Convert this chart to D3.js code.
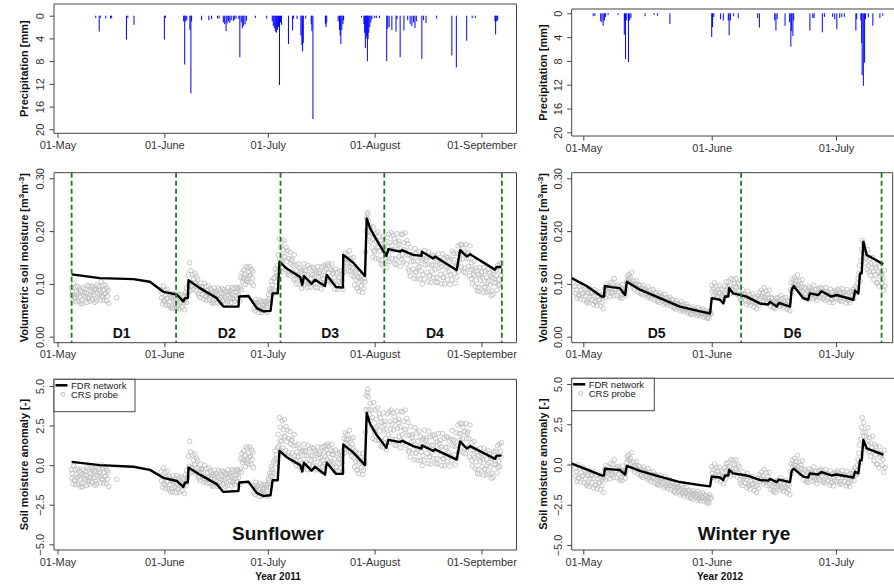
<!DOCTYPE html>
<html>
<head>
<meta charset="utf-8">
<script src="https://cdn.jsdelivr.net/npm/d3@7"></script>
<style>
body { margin: 0; background: #fff; }
text { font-family: "Liberation Sans", Arial, sans-serif; }
</style>
</head>
<body>
<script>
// days are counted from 01-May of each year

// hourly rain, [day, mm]
const precip2011 = [
  [11.1,0.4],[12.1,2.8],[12.4,0.4],[14.0,0.5],[15.4,0.5],[15.7,0.4],[20.0,4.2],[20.4,0.4],[22.2,1.6],[31.0,4.2],[31.3,0.4],
  [36.6,1.0],[36.9,8.6],[37.2,1.0],[37.5,0.8],[38.4,2.5],[38.7,13.7],[38.9,1.0],
  [41.8,0.8],[43.9,0.8],[44.7,0.6],[46.4,0.5],[46.9,0.5],[48.1,1.2],[48.5,1.5],[48.9,2.7],[49.2,1.4],[49.6,1.0],[50.0,1.3],[50.4,0.8],[51.0,0.9],[51.4,0.7],[51.8,0.5],
  [52.6,0.6],[52.9,7.3],[53.3,1.2],[53.6,2.2],[54.0,1.8],[54.4,1.5],[54.8,0.9],
  [57.4,0.4],[60.7,0.5],
  [62.3,1.0],[62.6,1.8],[62.9,2.2],[63.2,2.8],[63.5,3.0],[63.8,2.5],[64.1,2.0],[64.4,12.2],[64.7,1.2],
  [65.0,1.6],[67.0,5.0],[68.2,2.6],[68.5,0.5],[69.5,0.6],[70.6,3.5],[70.9,5.2],[71.1,6.3],[71.3,4.8],[72.0,0.5],
  [73.6,1.5],[73.8,2.7],[74.1,18.2],
  [77.7,1.5],[77.9,2.0],[78.1,1.2],
  [81.4,1.0],[81.8,2.5],[82.0,3.5],[82.2,5.0],[82.5,2.5],[82.8,1.5],[83.0,0.8],
  [88.2,0.3],[88.9,1.5],[89.1,3.0],[89.3,5.7],[89.5,4.0],[89.7,3.5],[89.9,8.0],[90.1,4.1],[90.3,3.0],[90.6,2.0],[90.9,1.2],[91.2,0.6],
  [92.0,0.4],[92.5,0.4],[93.4,0.4],
  [95.5,8.0],[95.8,2.3],[96.2,2.0],[97.0,2.5],[98.2,2.8],[98.5,0.6],[99.4,7.3],[100.5,2.6],[101.6,0.8],
  [102.3,1.5],[102.8,1.8],[103.3,1.2],[103.7,2.2],[104.1,1.0],
  [105.7,7.6],[106.2,0.8],[106.9,1.3],[110.0,0.5],
  [114.4,7.0],[115.7,9.1],[118.7,4.4],[120.3,0.4],[121.2,0.4],[126.9,1.0],[127.1,3.3],[127.4,1.0],[127.7,0.8]
];
const precip2012 = [
  [2.4,0.5],[2.8,0.4],[4.2,1.3],[4.5,1.5],[4.8,2.1],[5.1,1.2],[5.4,0.6],[6.0,0.3],[8.4,0.3],
  [9.9,3.6],[10.0,1.2],[10.2,7.7],[10.5,1.2],[10.9,8.2],[11.2,1.2],[11.5,0.8],[14.9,0.5],[17.1,0.3],[17.9,0.4],[20.9,1.8],
  [31.0,4.0],[31.2,2.3],[31.5,0.6],[33.1,1.0],[33.8,1.2],[35.0,1.2],[35.2,3.7],[35.5,1.2],[36.3,0.5],[37.4,0.8],
  [42.1,0.8],[42.5,2.4],
  [46.2,1.2],[46.5,2.9],[46.8,1.0],[48.7,2.1],[49.8,1.5],[50.1,5.6],[50.3,3.0],[50.6,3.8],[50.8,1.2],
  [54.7,2.9],[55.4,0.8],[55.7,0.8],[57.7,3.2],[58.2,0.6],[60.2,0.6],[60.7,1.0],[61.2,2.7],[61.9,0.8],[62.4,0.6],[63.0,0.6],
  [65.8,2.9],[66.0,1.0],[67.0,1.2],[67.2,5.0],[67.3,10.4],[67.6,12.2],[67.9,8.3],[68.1,1.0],[68.8,0.7],[69.9,2.1],[71.6,0.8],[72.3,0.4]
];

// FDR network, [day, value]
const fdrSm2011 = [
  [4.1,.118],[12.3,.111],[22,.109],[26.8,.104],[30.7,.085],[34.6,.080],[36.5,.067],[37.0,.073],[37.8,.073],[38.0,.107],
  [41.3,.092],[46.2,.073],[48.1,.057],[52.5,.057],[52.7,.076],[55.4,.077],[57.8,.054],[59.7,.048],[61.8,.049],[62.4,.082],
  [63.9,.082],[64.4,.142],[66.5,.129],[70.4,.113],[71.0,.098],[71.5,.115],[73.7,.100],[74.7,.108],[77.6,.096],[78.1,.117],
  [80.8,.094],[82.8,.093],[82.9,.155],[85.8,.140],[89.2,.115],[89.7,.224],[90.7,.205],[92.6,.183],[95.4,.153],[96.0,.166],
  [99.4,.161],[99.9,.164],[103.2,.155],[105.6,.153],[105.7,.161],[109.0,.148],[109.5,.152],[115.8,.126],[116.8,.164],
  [118.7,.152],[119.7,.156],[126.9,.127],[127.4,.132],[128.8,.132]
];
const fdrAn2011 = [
  [4.1,0.21],[12.3,0.0],[22,-0.1],[26.8,-0.3],[30.7,-0.8],[34.6,-1.0],[36.5,-1.37],[37.0,-1.1],[37.8,-1.1],[38.0,-0.15],
  [41.3,-0.6],[46.2,-1.2],[48.1,-1.69],[52.5,-1.63],[52.7,-1.1],[55.4,-1.05],[57.8,-1.75],[59.7,-1.95],[61.8,-1.9],[62.4,-0.95],
  [63.9,-0.95],[64.4,0.9],[66.5,0.5],[70.4,0.0],[71.0,-0.4],[71.5,0.15],[73.7,-0.35],[74.7,-0.1],[77.6,-0.6],[78.1,0.15],
  [80.8,-0.55],[82.8,-0.55],[82.9,1.3],[85.8,0.8],[89.2,0.0],[89.7,3.3],[90.7,2.6],[92.6,1.9],[95.4,1.1],[96.0,1.6],
  [99.4,1.45],[99.9,1.55],[103.2,1.2],[105.6,1.05],[105.7,1.25],[109.0,0.9],[109.5,1.0],[115.8,0.35],[116.8,1.5],
  [118.7,1.05],[119.7,1.2],[126.9,0.4],[127.4,0.6],[128.8,0.6]
];
const fdrSm2012 = [
  [-2.8,.111],[0.8,.096],[4.4,.076],[5.0,.076],[5.2,.096],[6.8,.094],[8.8,.092],[10.1,.079],[10.5,.104],[13.7,.089],
  [18.5,.073],[23.3,.057],[28.2,.048],[30.6,.044],[31.0,.073],[33.0,.070],[33.8,.063],[34.2,.076],[35.0,.076],[35.2,.092],
  [36.2,.082],[39.4,.076],[42.6,.063],[44.6,.061],[45.1,.066],[46.7,.057],[47.2,.064],[49.9,.057],[50.3,.089],[50.8,.096],
  [53.1,.073],[54.3,.070],[54.7,.082],[56.7,.079],[57.5,.086],[59.9,.076],[61.1,.079],[65.2,.070],[65.6,.087],[66.4,.082],
  [66.8,.120],[67.2,.120],[67.6,.180],[68.4,.155],[70.0,.148],[72.4,.137]
];
const fdrAn2012 = [
  [-2.8,0.06],[0.8,-0.3],[4.4,-0.68],[5.0,-0.68],[5.2,-0.26],[6.8,-0.3],[8.8,-0.34],[10.1,-0.62],[10.5,-0.09],[13.7,-0.4],
  [18.5,-0.75],[23.3,-1.09],[28.2,-1.28],[30.6,-1.36],[31.0,-0.75],[33.0,-0.81],[33.8,-0.96],[34.2,-0.68],[35.0,-0.68],[35.2,-0.34],
  [36.2,-0.55],[39.4,-0.68],[42.6,-0.96],[44.6,-1.0],[45.1,-0.9],[46.7,-1.09],[47.2,-0.94],[49.9,-1.09],[50.3,-0.4],[50.8,-0.26],
  [53.1,-0.75],[54.3,-0.81],[54.7,-0.55],[56.7,-0.62],[57.5,-0.47],[59.9,-0.68],[61.1,-0.62],[65.2,-0.81],[65.6,-0.45],[66.4,-0.55],
  [66.8,0.26],[67.2,0.26],[67.6,1.53],[68.4,1.0],[70.0,0.85],[72.4,0.62]
];

// CRS probe, [day, readings spread over that day]
const crsSm2011 = [
  [4,.093,.078,.086,.068,.100,.075],[5,.073,.094,.066,.085,.078,.095],[6,.081,.067,.091,.076,.087,.062],
  [7,.068,.085,.063,.093,.078,.083],[8,.090,.075,.083,.065,.097,.072],[9,.074,.095,.067,.086,.079,.096],
  [10,.084,.070,.094,.079,.090,.065],[11,.073,.090,.068,.098,.083,.088],[12,.095,.080,.088,.070,.104,.077],
  [13,.076,.097,.069,.088,.081,.098],[14,.082,.068,.092,.077,.088,.063],[17.2,.074],
  [30,.089,.073,.082,.062,.096,.069],[31,.067,.088,.060,.079,.072,.090],[32,.072,.059,.081,.067,.078,.054],
  [33,.058,.074,.054,.082,.068,.073],[34,.077,.062,.070,.053,.083,.059],[35,.060,.079,.053,.071,.064,.080],
  [36,.069,.056,.078,.064,.075,.051],[37,.069,.084,.065,.092,.078,.083],[38,.117,.099,.140,.087,.125,.095],
  [39,.097,.118,.090,.109,.102,.120],[40,.102,.087,.113,.096,.109,.082],[41,.078,.094,.074,.102,.088,.093],
  [42,.095,.080,.088,.071,.101,.077],[43,.076,.095,.069,.087,.080,.096],[44,.082,.069,.091,.077,.088,.064],
  [45,.068,.084,.064,.092,.078,.083],[46,.086,.073,.080,.064,.092,.070],[47,.071,.089,.065,.082,.076,.091],
  [48,.080,.068,.089,.075,.086,.063],[49,.070,.085,.066,.093,.079,.084],[50,.087,.074,.081,.065,.093,.071],
  [51,.073,.091,.067,.084,.078,.093],[52,.084,.071,.093,.079,.090,.067],[53,.094,.112,.089,.121,.105,.110],
  [54,.126,.110,.119,.099,.133,.106],[55,.110,.131,.103,.122,.115,.133],[56,.117,.102,.128,.111,.124,.097],
  [57,.053,.065,.049,.071,.060,.064],[58,.064,.053,.059,.046,.069,.051],[59,.051,.066,.046,.060,.055,.067],
  [60,.059,.050,.066,.056,.064,.046],[61,.068,.080,.072,.090,.062,.085],[62,.105,.090,.098,.082,.110,.088],
  [63,.112,.128,.104,.122,.116,.134],[64,.155,.130,.185,.145,.170,.122],[65,.143,.179,.131,.164,.152,.182],
  [66,.151,.127,.169,.142,.163,.118],[67,.123,.148,.116,.160,.138,.146],[68,.145,.123,.135,.108,.155,.118],
  [69,.109,.136,.100,.125,.116,.138],[70,.116,.099,.129,.110,.125,.092],[71,.105,.127,.098,.138,.118,.125],
  [72,.126,.106,.117,.093,.135,.102],[73,.103,.130,.094,.119,.110,.132],[74,.117,.100,.130,.111,.126,.093],
  [75,.100,.122,.093,.133,.113,.120],[76,.123,.103,.114,.090,.132,.099],[77,.110,.134,.102,.124,.116,.136],
  [78,.127,.111,.139,.121,.135,.105],[79,.108,.128,.102,.138,.120,.126],[80,.120,.102,.112,.090,.128,.098],
  [81,.098,.122,.090,.112,.104,.124],[82,.112,.096,.124,.106,.120,.090],[83,.128,.148,.122,.158,.140,.146],
  [84,.155,.137,.147,.125,.163,.133],[85,.124,.148,.116,.138,.130,.150],[86,.114,.098,.126,.108,.122,.092],
  [87,.092,.112,.086,.122,.104,.110],[88,.114,.096,.106,.084,.122,.092],[89,.110,.104,.160,.200,.225,.232],
  [90,.235,.220,.200,.190,.210,.180],[91,.196,.169,.184,.151,.208,.163],[92,.160,.196,.148,.181,.169,.199],
  [93,.171,.147,.189,.162,.183,.138],[94,.145,.175,.136,.190,.163,.172],[95,.176,.149,.164,.131,.188,.143],
  [96,.155,.194,.142,.178,.165,.197],[97,.173,.148,.192,.164,.186,.138],[98,.147,.179,.137,.195,.166,.176],
  [99,.181,.152,.168,.133,.194,.146],[100,.155,.194,.142,.178,.165,.197],[101,.163,.138,.182,.154,.176,.128],
  [102,.124,.154,.115,.169,.142,.151],[103,.155,.128,.143,.110,.167,.122],[104,.122,.158,.110,.143,.131,.161],
  [105,.133,.109,.151,.124,.145,.100],[106,.118,.148,.109,.163,.136,.145],[107,.149,.122,.137,.104,.161,.116],
  [108,.115,.151,.103,.136,.124,.154],[109,.136,.112,.154,.127,.148,.103],[110,.112,.142,.103,.157,.130,.139],
  [111,.145,.118,.133,.100,.157,.112],[112,.112,.148,.100,.133,.121,.151],[113,.132,.108,.150,.123,.144,.099],
  [114,.117,.147,.108,.162,.135,.158],[115,.146,.119,.134,.101,.158,.113],[116,.136,.172,.124,.157,.145,.175],
  [117,.156,.132,.174,.147,.168,.123],[118,.130,.160,.121,.175,.148,.157],[119,.160,.133,.148,.115,.172,.127],
  [120,.110,.140,.100,.128,.118,.143],[121,.115,.095,.130,.107,.125,.087],[122,.093,.118,.086,.131,.108,.116],
  [123,.121,.099,.111,.084,.131,.094],[124,.094,.124,.084,.112,.102,.127],[125,.106,.086,.121,.098,.116,.078],
  [126,.087,.112,.080,.125,.102,.110],[127,.125,.103,.115,.088,.135,.098],[128,.108,.138,.098,.126,.116,.140]
];
const crsAn2011 = [
  [4,-0.29,-0.83,-0.53,-1.19,-0.05,-0.95],[5,-0.99,-0.27,-1.23,-0.57,-0.81,-0.21],[6,-0.72,-1.2,-0.36,-0.9,-0.48,-1.38],
  [7,-1.18,-0.58,-1.36,-0.28,-0.82,-0.64],[8,-0.39,-0.93,-0.63,-1.29,-0.15,-1.05],[9,-0.96,-0.24,-1.2,-0.54,-0.78,-0.18],
  [10,-0.62,-1.1,-0.26,-0.8,-0.38,-1.28],[11,-1.01,-0.41,-1.19,-0.11,-0.65,-0.47],[12,-0.22,-0.76,-0.46,-1.12,0.02,-0.88],
  [13,-0.89,-0.17,-1.13,-0.47,-0.71,-0.11],[14,-0.69,-1.17,-0.33,-0.87,-0.45,-1.35],[17.2,-0.9],
  [30,-0.43,-1.0,-0.69,-1.4,-0.17,-1.15],[31,-1.23,-0.45,-1.49,-0.78,-1.04,-0.39],[32,-1.05,-1.51,-0.71,-1.22,-0.83,-1.68],
  [33,-1.52,-0.95,-1.69,-0.67,-1.18,-1.01],[34,-0.88,-1.39,-1.11,-1.73,-0.65,-1.5],[35,-1.48,-0.79,-1.71,-1.08,-1.31,-0.74],
  [36,-1.16,-1.62,-0.82,-1.33,-0.94,-1.79],[37,-1.14,-0.6,-1.31,-0.33,-0.82,-0.66],[38,0.56,-0.07,1.5,-0.49,0.84,-0.21],
  [39,-0.15,0.63,-0.41,0.31,0.05,0.7],[40,0.03,-0.5,0.42,-0.17,0.29,-0.69],[41,-0.81,-0.24,-0.98,0.04,-0.47,-0.3],
  [42,-0.23,-0.74,-0.46,-1.08,0.0,-0.86],[43,-0.91,-0.22,-1.14,-0.51,-0.74,-0.17],[44,-0.69,-1.15,-0.35,-0.86,-0.47,-1.32],
  [45,-1.16,-0.59,-1.33,-0.31,-0.82,-0.65],[46,-0.54,-1.02,-0.75,-1.35,-0.32,-1.13],[47,-1.08,-0.43,-1.29,-0.7,-0.91,-0.37],
  [48,-0.77,-1.2,-0.44,-0.93,-0.55,-1.36],[49,-1.11,-0.57,-1.28,-0.3,-0.79,-0.63],[50,-0.5,-0.98,-0.71,-1.31,-0.28,-1.09],
  [51,-1.01,-0.36,-1.22,-0.63,-0.84,-0.3],[52,-0.63,-1.06,-0.3,-0.79,-0.41,-1.22],[53,-0.25,0.4,-0.45,0.73,0.14,0.34],
  [54,0.89,0.31,0.63,-0.09,1.15,0.18],[55,0.31,1.09,0.05,0.77,0.51,1.16],[56,0.57,0.05,0.96,0.37,0.83,-0.15],
  [57,-1.73,-1.3,-1.86,-1.08,-1.47,-1.34],[58,-1.32,-1.71,-1.49,-1.97,-1.15,-1.8],[59,-1.78,-1.27,-1.95,-1.48,-1.65,-1.22],
  [60,-1.5,-1.84,-1.24,-1.63,-1.33,-1.97],[61,-1.2,-0.85,-1.0,-0.5,-1.4,-0.7],[62,-0.1,-0.45,-0.25,-0.7,0.2,-0.5],
  [63,0.35,0.9,0.1,0.65,0.45,1.1],[64,1.95,1.2,3.0,1.55,2.4,0.9],[65,1.5,2.79,1.07,2.25,1.82,2.89],
  [66,1.79,0.93,2.43,1.47,2.22,0.61],[67,0.78,1.68,0.51,2.13,1.32,1.59],[68,1.58,0.77,1.22,0.23,1.94,0.59],
  [69,0.29,1.25,-0.03,0.85,0.53,1.33],[70,0.55,-0.09,1.03,0.31,0.87,-0.33],[71,0.13,0.93,-0.11,1.33,0.61,0.85],
  [72,0.91,0.19,0.59,-0.29,1.23,0.03],[73,0.07,1.03,-0.25,0.63,0.31,1.11],[74,0.58,-0.06,1.06,0.34,0.9,-0.3],
  [75,-0.05,0.75,-0.29,1.15,0.43,0.67],[76,0.8,0.08,0.48,-0.4,1.12,-0.08],[77,0.33,1.17,0.05,0.82,0.54,1.24],
  [78,0.93,0.37,1.35,0.72,1.21,0.16],[79,0.26,0.96,0.05,1.31,0.68,0.89],[80,0.67,0.04,0.39,-0.38,0.95,-0.1],
  [81,-0.1,0.74,-0.38,0.39,0.11,0.81],[82,0.39,-0.17,0.81,0.18,0.67,-0.38],[83,0.98,1.68,0.77,2.03,1.4,1.61],
  [84,1.92,1.29,1.64,0.87,2.2,1.15],[85,0.83,1.67,0.55,1.32,1.04,1.74],[86,0.46,-0.1,0.88,0.25,0.74,-0.31],
  [87,-0.31,0.39,-0.52,0.74,0.11,0.32],[88,0.46,-0.17,0.18,-0.59,0.74,-0.31],[89,0.3,0.14,2.1,3.5,4.4,4.6],
  [90,4.8,4.3,3.5,3.2,3.9,2.8],[91,3.48,2.4,3.0,1.68,3.96,2.16],[92,2.06,3.5,1.58,2.9,2.42,3.62],
  [93,2.52,1.56,3.24,2.16,3.0,1.2],[94,1.5,2.7,1.14,3.3,2.22,2.58],[95,2.76,1.68,2.28,0.96,3.24,1.44],
  [96,1.92,3.36,1.44,2.76,2.28,3.48],[97,2.59,1.63,3.31,2.23,3.07,1.27],[98,1.61,2.81,1.25,3.41,2.33,2.69],
  [99,2.9,1.82,2.42,1.1,3.38,1.58],[100,1.92,3.36,1.44,2.76,2.28,3.48],[101,2.23,1.27,2.95,1.87,2.71,0.91],
  [102,0.83,1.9,0.51,2.43,1.47,1.79],[103,1.93,0.97,1.5,0.33,2.36,0.76],[104,0.75,2.04,0.32,1.5,1.07,2.14],
  [105,1.15,0.29,1.79,0.83,1.58,-0.03],[106,0.61,1.68,0.29,2.21,1.25,1.57],[107,1.71,0.75,1.28,0.11,2.14,0.54],
  [108,0.5,1.79,0.07,1.25,0.82,1.89],[109,1.26,0.4,1.9,0.94,1.69,0.08],[110,0.4,1.47,0.08,2.0,1.04,1.36],
  [111,1.57,0.61,1.14,-0.03,2.0,0.4],[112,0.39,1.68,-0.04,1.14,0.71,1.78],[113,1.11,0.25,1.75,0.79,1.54,-0.07],
  [114,0.58,1.65,0.26,2.18,1.22,1.54],[115,1.61,0.65,1.18,0.01,2.04,0.44],[116,1.25,2.54,0.82,2.0,1.57,2.64],
  [117,1.97,1.11,2.61,1.65,2.4,0.79],[118,1.04,2.11,0.72,2.64,1.68,2.0],[119,2.11,1.15,1.68,0.51,2.54,0.94],
  [120,0.32,1.4,-0.04,0.95,0.59,1.49],[121,0.48,-0.24,1.02,0.21,0.84,-0.51],[122,-0.29,0.61,-0.56,1.06,0.25,0.52],
  [123,0.72,-0.09,0.36,-0.63,1.08,-0.27],[124,-0.25,0.83,-0.61,0.38,0.02,0.92],[125,0.16,-0.56,0.7,-0.11,0.52,-0.83],
  [126,-0.5,0.4,-0.77,0.85,0.04,0.31],[127,0.86,0.05,0.5,-0.49,1.22,-0.13],[128,0.25,1.33,-0.11,0.88,0.52,1.42]
];
const crsSm2012 = [
  [-2,.095,.082,.089,.073,.101,.079],[-1,.077,.095,.071,.088,.082,.097],[0,.082,.070,.091,.077,.088,.065],
  [1,.068,.083,.064,.091,.077,.082],[2,.083,.070,.077,.061,.089,.067],[3,.065,.083,.059,.076,.070,.085],
  [4,.070,.058,.079,.065,.076,.053],[5,.079,.093,.074,.100,.087,.091],[6,.097,.085,.092,.076,.103,.082],
  [7,.084,.101,.078,.110,.089,.096],[8,.089,.078,.098,.085,.095,.074],[9,.078,.092,.073,.099,.086,.090],
  [10,.084,.078,.090,.105,.115,.110],[11,.118,.108,.112,.102,.122,.098],[12,.093,.105,.089,.100,.096,.106],
  [13,.093,.085,.099,.090,.097,.082],[14,.082,.092,.079,.097,.088,.091],[15,.090,.081,.086,.075,.094,.079],
  [16,.076,.088,.072,.083,.079,.089],[17,.078,.070,.084,.075,.082,.067],[18,.068,.078,.065,.083,.074,.077],
  [19,.076,.067,.072,.061,.080,.065],[20,.063,.074,.060,.070,.066,.075],[21,.065,.058,.070,.062,.069,.055],
  [22,.055,.064,.052,.068,.060,.063],[23,.062,.054,.059,.049,.066,.053],[24,.050,.061,.047,.057,.053,.062],
  [25,.052,.045,.057,.049,.055,.043],[26,.044,.052,.042,.056,.049,.051],[27,.052,.045,.049,.040,.055,.043],
  [28,.042,.051,.039,.047,.044,.052],[29,.044,.037,.049,.041,.047,.035],[30,.037,.045,.035,.049,.042,.044],
  [31,.097,.086,.092,.079,.102,.084],[32,.080,.095,.075,.089,.084,.097],[33,.082,.072,.090,.078,.088,.068],
  [34,.081,.096,.077,.104,.090,.095],[35,.104,.091,.098,.082,.110,.088],[36,.090,.108,.084,.101,.095,.110],
  [37,.092,.080,.101,.087,.098,.075],[38,.069,.082,.065,.089,.077,.081],[39,.081,.069,.076,.061,.086,.067],
  [40,.064,.079,.059,.073,.068,.081],[41,.067,.057,.075,.063,.073,.053],[42,.064,.077,.060,.084,.072,.076],
  [43,.088,.076,.083,.068,.093,.074],[44,.071,.086,.066,.080,.075,.088],[45,.067,.058,.074,.064,.072,.055],
  [46,.056,.067,.053,.073,.063,.066],[47,.074,.064,.069,.057,.078,.062],[48,.060,.073,.055,.067,.063,.074],
  [49,.061,.052,.068,.058,.066,.049],[50,.089,.102,.085,.109,.097,.101],[51,.112,.100,.107,.092,.117,.098],
  [52,.091,.106,.086,.100,.095,.108],[53,.085,.075,.093,.081,.091,.071],[54,.074,.087,.070,.094,.082,.086],
  [55,.092,.080,.087,.072,.097,.078],[56,.074,.089,.069,.083,.078,.091],[57,.085,.075,.093,.081,.091,.071],
  [58,.073,.086,.069,.093,.081,.085],[59,.085,.073,.080,.065,.090,.071],[60,.070,.085,.065,.079,.074,.087],
  [61,.082,.072,.090,.078,.088,.068],[62,.071,.084,.067,.091,.079,.083],[63,.084,.072,.079,.064,.089,.070],
  [64,.069,.084,.064,.078,.073,.086],[65,.078,.090,.072,.085,.095,.083],[66,.090,.100,.110,.120,.135,.105],
  [67,.145,.165,.182,.158,.175,.150],[68,.157,.139,.149,.127,.165,.135],[69,.124,.148,.116,.138,.130,.150],
  [70,.124,.108,.136,.118,.132,.102],[71,.102,.122,.096,.132,.114,.120],[72,.118,.100,.110,.088,.126,.096]
];
const crsAn2012 = [
  [-2,-0.23,-0.71,-0.44,-1.04,-0.01,-0.82],[-1,-0.88,-0.23,-1.09,-0.5,-0.71,-0.17],[0,-0.71,-1.14,-0.38,-0.87,-0.49,-1.3],
  [1,-1.19,-0.65,-1.36,-0.38,-0.87,-0.71],[2,-0.66,-1.14,-0.87,-1.47,-0.44,-1.25],[3,-1.3,-0.65,-1.51,-0.92,-1.13,-0.59],
  [4,-1.14,-1.57,-0.81,-1.3,-0.92,-1.73],[5,-0.81,-0.31,-0.96,-0.06,-0.51,-0.36],[6,-0.14,-0.59,-0.34,-0.89,0.06,-0.69],
  [7,-0.6,0.0,-0.8,0.3,-0.45,-0.2],[8,-0.43,-0.83,-0.13,-0.58,-0.23,-0.98],[9,-0.85,-0.35,-1.0,-0.1,-0.55,-0.4],
  [10,-0.62,-0.84,-0.4,0.13,0.49,0.31],[11,0.6,0.24,0.39,0.02,0.74,-0.12],[12,-0.29,0.14,-0.44,-0.04,-0.19,0.17],
  [13,-0.29,-0.58,-0.08,-0.4,-0.15,-0.69],[14,-0.7,-0.34,-0.8,-0.16,-0.48,-0.37],[15,-0.4,-0.73,-0.55,-0.94,-0.26,-0.8],
  [16,-0.91,-0.48,-1.06,-0.66,-0.81,-0.45],[17,-0.83,-1.12,-0.62,-0.94,-0.69,-1.23],[18,-1.2,-0.84,-1.3,-0.66,-0.98,-0.87],
  [19,-0.9,-1.23,-1.05,-1.44,-0.76,-1.3],[20,-1.36,-0.97,-1.49,-1.13,-1.26,-0.94],[21,-1.31,-1.56,-1.12,-1.4,-1.18,-1.66],
  [22,-1.67,-1.35,-1.77,-1.19,-1.48,-1.38],[23,-1.4,-1.69,-1.53,-1.88,-1.27,-1.75],[24,-1.83,-1.44,-1.96,-1.6,-1.73,-1.41],
  [25,-1.77,-2.0,-1.6,-1.86,-1.66,-2.09],[26,-2.05,-1.76,-2.14,-1.62,-1.88,-1.79],[27,-1.78,-2.04,-1.89,-2.21,-1.66,-2.1],
  [28,-2.14,-1.79,-2.25,-1.93,-2.05,-1.76],[29,-2.06,-2.29,-1.89,-2.15,-1.95,-2.38],[30,-2.3,-2.01,-2.39,-1.87,-2.13,-2.04],
  [31,-0.14,-0.53,-0.31,-0.79,0.03,-0.62],[32,-0.78,-0.21,-0.97,-0.45,-0.64,-0.17],[33,-0.68,-1.06,-0.4,-0.82,-0.5,-1.2],
  [34,-0.73,-0.19,-0.9,0.08,-0.41,-0.25],[35,0.09,-0.39,-0.12,-0.72,0.31,-0.5],[36,-0.41,0.24,-0.62,-0.03,-0.24,0.3],
  [37,-0.36,-0.79,-0.03,-0.52,-0.14,-0.95],[38,-1.16,-0.69,-1.3,-0.46,-0.88,-0.74],[39,-0.74,-1.16,-0.93,-1.44,-0.55,-1.26],
  [40,-1.35,-0.78,-1.54,-1.02,-1.21,-0.74],[41,-1.22,-1.6,-0.94,-1.36,-1.04,-1.74],[42,-1.33,-0.86,-1.47,-0.63,-1.05,-0.91],
  [43,-0.49,-0.91,-0.68,-1.19,-0.3,-1.01],[44,-1.1,-0.53,-1.29,-0.77,-0.96,-0.49],[45,-1.23,-1.55,-0.99,-1.35,-1.07,-1.67],
  [46,-1.61,-1.21,-1.73,-1.01,-1.37,-1.25],[47,-0.99,-1.35,-1.15,-1.59,-0.83,-1.43],[48,-1.5,-1.02,-1.66,-1.22,-1.38,-0.98],
  [49,-1.44,-1.76,-1.2,-1.56,-1.28,-1.88],[50,-0.43,0.04,-0.57,0.27,-0.15,-0.01],[51,0.38,-0.04,0.19,-0.32,0.57,-0.14],
  [52,-0.38,0.19,-0.57,-0.05,-0.24,0.23],[53,-0.57,-0.95,-0.29,-0.71,-0.39,-1.09],[54,-0.97,-0.5,-1.11,-0.27,-0.69,-0.55],
  [55,-0.34,-0.76,-0.53,-1.04,-0.15,-0.86],[56,-0.99,-0.42,-1.18,-0.66,-0.85,-0.38],[57,-0.57,-0.95,-0.29,-0.71,-0.39,-1.09],
  [58,-1.01,-0.54,-1.15,-0.31,-0.73,-0.59],[59,-0.59,-1.01,-0.78,-1.29,-0.4,-1.11],[60,-1.14,-0.57,-1.33,-0.81,-1.0,-0.53],
  [61,-0.68,-1.06,-0.4,-0.82,-0.5,-1.2],[62,-1.08,-0.61,-1.22,-0.38,-0.8,-0.66],[63,-0.63,-1.05,-0.82,-1.33,-0.44,-1.15],
  [64,-1.17,-0.6,-1.36,-0.84,-1.03,-0.56],[65,-0.8,-0.4,-1.0,-0.6,-0.2,-0.65],[66,-0.4,-0.05,0.3,0.7,1.2,0.1],
  [67,1.57,2.3,2.9,2.0,2.6,1.75],[68,2.0,1.35,1.71,0.92,2.29,1.21],[69,0.81,1.68,0.52,1.32,1.03,1.75],
  [70,0.81,0.24,1.24,0.6,1.1,0.02],[71,0.02,0.74,-0.2,1.1,0.45,0.67],[72,0.6,-0.05,0.31,-0.48,0.89,-0.19]
];

// period limits and labels
const periodBreaks2011 = [4.1, 34.4, 64.7, 94.8, 128.9];
const periodBreaks2012 = [38.1, 72.0];
const periodNames2011 = ["D1", "D2", "D3", "D4"];
const periodDays2011 = [18.6, 49.1, 79.1, 109.5];
const periodNames2012 = ["D5", "D6"];
const periodDays2012 = [17.7, 50.5];

const monthTicks2011 = ["2011-05-01", "2011-06-01", "2011-07-01", "2011-08-01", "2011-09-01"];
const monthTicks2012 = ["2012-05-01", "2012-06-01", "2012-07-01"];
const precipTicks = [0, 4, 8, 12, 16, 20];
const smTicks = [0, 0.1, 0.2, 0.3];
const anomTicks = [-5, -2.5, 0, 2.5, 5];

const svg = d3.select("body").append("svg")
  .attr("width", 894)
  .attr("height", 585);

const day2011 = d => new Date(Date.UTC(2011, 4, 1) + d * 864e5);
const day2012 = d => new Date(Date.UTC(2012, 4, 1) + d * 864e5);

const x2011 = d3.scaleUtc().domain([day2011(0), day2011(123)]).range([57.5, 481.5]);
const x2012 = d3.scaleUtc().domain([day2012(0), day2012(61)]).range([583.3, 836]);

const cols = [
  {x: x2011, day: day2011, left: 54, right: 516.5, open: false, ticks: monthTicks2011, precip: precip2011,
   fdrSm: fdrSm2011, fdrAn: fdrAn2011, crsSm: crsSm2011, crsAn: crsAn2011,
   breaks: periodBreaks2011, names: periodNames2011, nameDays: periodDays2011,
   crop: "Sunflower", cropX: 278, year: "Year 2011", yearX: 278,
   rows: [{y0: 4, y1: 133.3, r: [15.7, 129.3]}, {y0: 172.7, y1: 342.7, r: [336.7, 178.3]}, {y0: 379.3, y1: 550, r: [544.3, 386]}],
   titleX: 28, legendW: 81},
  {x: x2012, day: day2012, left: 571.7, right: 892.7, open: true, ticks: monthTicks2012, precip: precip2012,
   fdrSm: fdrSm2012, fdrAn: fdrAn2012, crsSm: crsSm2012, crsAn: crsAn2012,
   breaks: periodBreaks2012, names: periodNames2012, nameDays: periodDays2012,
   crop: "Winter rye", cropX: 744, year: "Year 2012", yearX: 720,
   rows: [{y0: 9, y1: 136, r: [13.3, 132.3]}, {y0: 172.7, y1: 342.7, r: [336.7, 178.3]}, {y0: 378.3, y1: 550, r: [545, 384]}],
   titleX: 547, legendW: 82.6}
];

const fmtMonth = d3.utcFormat("%d-%B");

function frame(c, row, y, yticks, yfmt, title, openRight) {
  const g = svg.append("g");
  g.append("g")
    .attr("transform", `translate(0,${row.y1})`)
    .call(d3.axisBottom(c.x).tickValues(c.ticks.map(s => new Date(s + "T00:00:00Z")))
      .tickFormat(fmtMonth).tickSize(4.5).tickPadding(3.5))
    .call(a => a.select(".domain").remove());
  g.append("g")
    .attr("transform", `translate(${c.left},0)`)
    .call(d3.axisLeft(y).tickValues(yticks).tickFormat(yfmt).tickSize(4.5))
    .call(a => a.select(".domain").remove())
    .call(a => a.selectAll(".tick text")
      .attr("x", null).attr("dy", null)
      .attr("text-anchor", "middle")
      .attr("transform", "translate(-10,0) rotate(-90)"));
  g.selectAll(".tick line").attr("stroke", "#444");
  g.selectAll(".tick text").attr("fill", "#333").attr("font-size", 11)
    .attr("font-family", "Liberation Sans, Arial, sans-serif");

  const r = openRight ? 900 : c.right;
  g.append("path")
    .attr("d", `M${r},${row.y0}H${c.left}V${row.y1}H${r}` + (openRight ? "" : "Z"))
    .attr("fill", "none")
    .attr("stroke", "#444")
    .attr("stroke-width", 1);

  const tt = g.append("text")
    .attr("transform", `translate(${c.titleX},${(row.y0 + row.y1) / 2}) rotate(-90)`)
    .attr("text-anchor", "middle")
    .attr("font-size", 11)
    .attr("font-weight", "bold")
    .attr("fill", "#111");
  title(tt);
}

// readings of one row are spread evenly through its day
function crsPoints(rows) {
  const pts = [];
  rows.forEach(r => {
    const n = r.length - 1;
    r.slice(1).forEach((v, i) => pts.push([r[0] + i / n, v]));
  });
  return pts;
}

function cloud(c, y, rows) {
  svg.append("g").selectAll("circle")
    .data(crsPoints(rows))
    .enter().append("circle")
    .attr("cx", d => c.x(c.day(d[0])))
    .attr("cy", d => y(d[1]))
    .attr("r", 2.3)
    .attr("fill", "none")
    .attr("stroke", "#bfbfbf")
    .attr("stroke-width", 0.9);
}

function fdrLine(c, y, pts) {
  const line = d3.line().x(d => c.x(c.day(d[0]))).y(d => y(d[1]));
  svg.append("path")
    .attr("d", line(pts))
    .attr("fill", "none")
    .attr("stroke", "#000")
    .attr("stroke-width", 2.4)
    .attr("stroke-linejoin", "round");
}

cols.forEach(c => {
  // precipitation
  const yP = d3.scaleLinear().domain([0, 20]).range(c.rows[0].r);
  svg.append("g").selectAll("line")
    .data(c.precip)
    .enter().append("line")
    .attr("x1", d => c.x(c.day(d[0])))
    .attr("x2", d => c.x(c.day(d[0])))
    .attr("y1", yP(0))
    .attr("y2", d => yP(d[1]))
    .attr("stroke", "#0000ff")
    .attr("stroke-width", 1);
  frame(c, c.rows[0], yP, precipTicks, d3.format("d"),
    t => t.text("Precipitation [mm]"), c.open);

  // volumetric soil moisture
  const yS = d3.scaleLinear().domain([0, 0.3]).range(c.rows[1].r);
  cloud(c, yS, c.crsSm);
  fdrLine(c, yS, c.fdrSm);
  svg.append("g").selectAll("line")
    .data(c.breaks)
    .enter().append("line")
    .attr("x1", d => c.x(c.day(d)))
    .attr("x2", d => c.x(c.day(d)))
    .attr("y1", c.rows[1].y0)
    .attr("y2", c.rows[1].y1)
    .attr("stroke", "#1e7d1e")
    .attr("stroke-width", 1.8)
    .attr("stroke-dasharray", "5,3");
  svg.append("g").selectAll("text")
    .data(c.names)
    .enter().append("text")
    .attr("x", (d, i) => c.x(c.day(c.nameDays[i])))
    .attr("y", 338)
    .attr("text-anchor", "middle")
    .attr("font-size", 14)
    .attr("font-weight", "bold")
    .attr("fill", "#111")
    .text(d => d);
  frame(c, c.rows[1], yS, smTicks, d3.format(".2f"), t => {
    t.append("tspan").text("Volumetric soil moisture  [m");
    t.append("tspan").attr("dy", -4).attr("font-size", 8).text("3");
    t.append("tspan").attr("dy", 4).text("m");
    t.append("tspan").attr("dy", -4).attr("font-size", 8).text("-3");
    t.append("tspan").attr("dy", 4).text("]");
  }, false);

  // anomaly
  const yA = d3.scaleLinear().domain([-5, 5]).range(c.rows[2].r);
  cloud(c, yA, c.crsAn);
  fdrLine(c, yA, c.fdrAn);
  frame(c, c.rows[2], yA, anomTicks, d3.format(".1f"),
    t => t.text("Soil moisture anomaly [-]"), c.open);

  // legend
  const ly = c.rows[2].y0;
  const lg = svg.append("g");
  lg.append("rect")
    .attr("x", c.left).attr("y", ly)
    .attr("width", c.legendW).attr("height", 32.4)
    .attr("fill", "#fff").attr("stroke", "#444");
  lg.append("line")
    .attr("x1", c.left + 1.5).attr("x2", c.left + 13.5)
    .attr("y1", ly + 6).attr("y2", ly + 6)
    .attr("stroke", "#000").attr("stroke-width", 2.5);
  lg.append("circle")
    .attr("cx", c.left + 9).attr("cy", ly + 15).attr("r", 2)
    .attr("fill", "none").attr("stroke", "#bfbfbf");
  lg.append("text").attr("x", c.left + 17).attr("y", ly + 9.3)
    .attr("font-size", 9.5).attr("fill", "#222").text("FDR network");
  lg.append("text").attr("x", c.left + 17).attr("y", ly + 18.8)
    .attr("font-size", 9.5).attr("fill", "#222").text("CRS probe");

  svg.append("text")
    .attr("x", c.cropX).attr("y", 540)
    .attr("text-anchor", "middle")
    .attr("font-size", 19).attr("font-weight", "bold").attr("fill", "#111")
    .text(c.crop);
  svg.append("text")
    .attr("x", c.yearX).attr("y", 580)
    .attr("text-anchor", "middle")
    .attr("font-size", 10).attr("font-weight", "bold").attr("fill", "#111")
    .text(c.year);
});
</script>
</body>
</html>
